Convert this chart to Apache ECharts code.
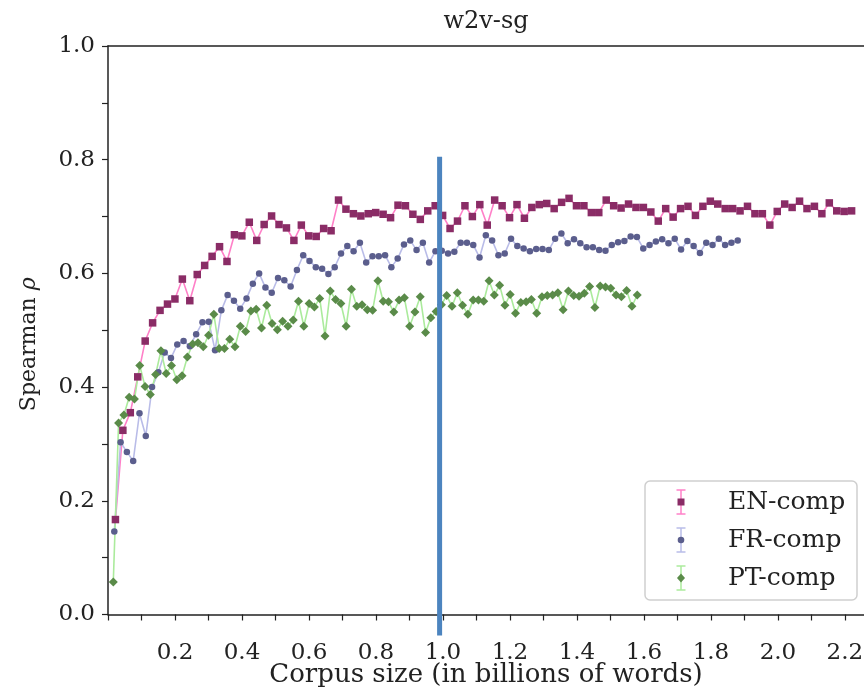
<!DOCTYPE html>
<html><head><meta charset="utf-8">
<script src="https://cdn.jsdelivr.net/npm/echarts@6/dist/echarts.min.js"></script>
<style>html,body{margin:0;padding:0;background:#fff}#c{width:864px;height:688px}</style>
</head><body><div id="c"></div>
<script>
// ---- data ----
const chartTitle = 'w2v-sg';
const seriesNames = ['EN-comp', 'FR-comp', 'PT-comp'];
// each curve is sampled at 1%,2%,...,100% of its full corpus (billions of words)
const corpusSizes = [2.22, 1.88, 1.58];
const enRho = [0.167,0.324,0.355,0.418,0.481,0.513,0.535,0.546,0.555,0.590,
  0.552,0.598,0.614,0.630,0.647,0.621,0.668,0.666,0.690,0.658,
  0.686,0.701,0.686,0.680,0.658,0.685,0.666,0.665,0.679,0.675,
  0.729,0.713,0.705,0.701,0.705,0.707,0.704,0.698,0.720,0.719,
  0.704,0.695,0.710,0.719,0.702,0.679,0.692,0.719,0.700,0.721,
  0.685,0.729,0.719,0.698,0.721,0.697,0.716,0.721,0.723,0.714,
  0.725,0.732,0.719,0.719,0.707,0.707,0.729,0.719,0.715,0.722,
  0.716,0.716,0.708,0.692,0.714,0.699,0.714,0.718,0.702,0.718,
  0.727,0.722,0.714,0.714,0.710,0.718,0.705,0.705,0.685,0.709,
  0.722,0.716,0.727,0.714,0.718,0.705,0.724,0.710,0.709,0.710];
const frRho = [0.146,0.303,0.286,0.270,0.354,0.314,0.400,0.426,0.461,0.451,
  0.475,0.481,0.472,0.493,0.514,0.515,0.465,0.535,0.562,0.552,
  0.538,0.556,0.582,0.600,0.575,0.566,0.592,0.588,0.577,0.606,
  0.632,0.622,0.611,0.608,0.599,0.611,0.635,0.648,0.639,0.654,
  0.619,0.630,0.630,0.632,0.611,0.626,0.651,0.658,0.641,0.654,
  0.619,0.639,0.640,0.635,0.638,0.654,0.654,0.650,0.628,0.667,
  0.658,0.632,0.635,0.661,0.648,0.644,0.639,0.643,0.643,0.641,
  0.661,0.670,0.653,0.660,0.653,0.646,0.646,0.641,0.640,0.650,
  0.655,0.657,0.665,0.664,0.644,0.650,0.656,0.660,0.653,0.661,
  0.642,0.657,0.648,0.636,0.654,0.650,0.661,0.650,0.654,0.658];
const ptRho = [0.057,0.337,0.351,0.382,0.379,0.438,0.401,0.387,0.422,0.464,
  0.424,0.438,0.413,0.420,0.453,0.476,0.478,0.471,0.491,0.528,
  0.468,0.468,0.484,0.471,0.507,0.498,0.534,0.537,0.504,0.544,
  0.512,0.501,0.516,0.507,0.518,0.551,0.507,0.547,0.541,0.556,
  0.490,0.569,0.554,0.547,0.507,0.572,0.542,0.545,0.536,0.535,
  0.587,0.551,0.550,0.532,0.553,0.557,0.507,0.532,0.559,0.496,
  0.522,0.533,0.545,0.561,0.542,0.566,0.544,0.528,0.553,0.553,
  0.551,0.587,0.562,0.579,0.544,0.563,0.530,0.549,0.550,0.554,
  0.530,0.559,0.561,0.562,0.566,0.536,0.569,0.561,0.560,0.565,
  0.577,0.540,0.578,0.576,0.574,0.562,0.559,0.570,0.542,0.562];
const xTickLabels = ['0.2','0.4','0.6','0.8','1.0','1.2','1.4','1.6','1.8','2.0','2.2'];
const yTickLabels = ['0.0','0.2','0.4','0.6','0.8','1.0'];
const markerLineX = 0.99;          // vertical annotation line (data units)
const markerLineY = [0.805, -0.037];

// ---- build ----
const rhoLists = [enRho, frRho, ptRho];
function toPairs(vals, size) {
  return vals.map((v, i) => [+(size * (i + 1) / vals.length).toFixed(4), v]);
}
const styles = [
  {symbol: 'rect', size: 7.5, mark: '#8a2c66', line: '#ff80c8'},
  {symbol: 'circle', size: 6.5, mark: '#5b5e8d', line: '#b9bce8'},
  {symbol: 'diamond', size: 9, mark: '#5a8b49', line: '#abeb9c'}
];
const serif = 'DejaVu Serif';
const chart = echarts.init(document.getElementById('c'), null, {renderer: 'canvas'});

const xFmt = v => { const s = v.toFixed(1); return (Math.abs(v * 10 - Math.round(v * 10)) < 1e-6 && xTickLabels.includes(s)) ? s : ''; };
const yFmt = v => { const s = v.toFixed(1); return (Math.abs(v * 10 - Math.round(v * 10)) < 1e-6 && yTickLabels.includes(s)) ? s : ''; };

const option = {
  animation: false,
  backgroundColor: '#fff',
  title: {
    text: chartTitle, left: 481, top: 5, textAlign: 'center',
    textStyle: {fontFamily: serif, fontSize: 24, fontWeight: 'normal', color: '#222'}
  },
  grid: {left: 108, top: 46, right: 0, bottom: 73.5, containLabel: false, outerBoundsMode: 'none'},
  xAxis: [{
    type: 'value', min: 0, max: 2.257, interval: 0.1,
    name: 'Corpus size (in billions of words)', nameLocation: 'middle', nameGap: 48, nameMoveOverlap: false,
    nameTextStyle: {fontFamily: serif, fontSize: 26, color: '#222'},
    axisLine: {lineStyle: {color: '#222', width: 1.5}},
    axisTick: {length: 6, lineStyle: {color: '#222', width: 1.2}},
    axisLabel: {formatter: xFmt, fontFamily: serif, fontSize: 23, color: '#222', margin: 21, padding: [6, 0, 0, 0], showMaxLabel: false},
    splitLine: {show: false}
  }, {
    type: 'value', position: 'top', min: 0, max: 2.257,
    axisLine: {show: true, lineStyle: {color: '#222', width: 1.5}},
    axisTick: {show: false}, axisLabel: {show: false}, splitLine: {show: false}
  }],
  yAxis: {
    type: 'value', min: 0, max: 1, interval: 0.1,
    name: 'Spearman {i|ρ}', nameLocation: 'middle', nameGap: 68, nameRotate: 90, nameMoveOverlap: false,
    nameTextStyle: {fontFamily: serif, fontSize: 22, color: '#222', padding: [0, 28, 0, 0],
      rich: {i: {fontFamily: serif, fontSize: 22, fontStyle: 'italic', color: '#222'}}},
    axisLine: {show: true, lineStyle: {color: '#222', width: 1.5}},
    axisTick: {length: 6, lineStyle: {color: '#222', width: 1.2}},
    axisLabel: {formatter: yFmt, fontFamily: serif, fontSize: 23, color: '#222', margin: 13},
    splitLine: {show: false}
  },
  series: seriesNames.map((name, k) => ({
    name, type: 'line', xAxisIndex: 0,
    data: toPairs(rhoLists[k], corpusSizes[k]),
    symbol: styles[k].symbol, symbolSize: styles[k].size, showAllSymbol: true,
    itemStyle: {color: styles[k].mark, opacity: 1},
    lineStyle: {color: styles[k].line, width: 1.6},
    emphasis: {disabled: true}
  }))
};
chart.setOption(option);

// vertical annotation line positioned through the axes' scales
const pTop = chart.convertToPixel({gridIndex: 0}, [markerLineX, markerLineY[0]]);
const pBot = chart.convertToPixel({gridIndex: 0}, [markerLineX, markerLineY[1]]);

// legend (box, error-bar icons, markers, text)
const legendBox = {x: 645, y: 481, w: 212, h: 119};
const legendRowY = [502, 540, 578];
const iconX = 681, textX = 728;
const g = [];
g.push({type: 'rect', shape: {x: legendBox.x, y: legendBox.y, width: legendBox.w, height: legendBox.h, r: 5},
  style: {fill: 'rgba(255,255,255,0.85)', stroke: '#cfcfcf', lineWidth: 1.5}, z: 10});
seriesNames.forEach((name, k) => {
  const cy = legendRowY[k], st = styles[k];
  const lc = st.line;
  g.push({type: 'line', shape: {x1: iconX, y1: cy - 12, x2: iconX, y2: cy + 12}, style: {stroke: lc, lineWidth: 1.5}, z: 11});
  g.push({type: 'line', shape: {x1: iconX - 4.5, y1: cy - 12, x2: iconX + 4.5, y2: cy - 12}, style: {stroke: lc, lineWidth: 1.5}, z: 11});
  g.push({type: 'line', shape: {x1: iconX - 4.5, y1: cy + 12, x2: iconX + 4.5, y2: cy + 12}, style: {stroke: lc, lineWidth: 1.5}, z: 11});
  if (st.symbol === 'rect') {
    g.push({type: 'rect', shape: {x: iconX - 3.5, y: cy - 3.5, width: 7, height: 7}, style: {fill: st.mark}, z: 12});
  } else if (st.symbol === 'circle') {
    g.push({type: 'circle', shape: {cx: iconX, cy: cy, r: 3.3}, style: {fill: st.mark}, z: 12});
  } else {
    g.push({type: 'polygon', shape: {points: [[iconX, cy - 4.5], [iconX + 4, cy], [iconX, cy + 4.5], [iconX - 4, cy]]}, style: {fill: st.mark}, z: 12});
  }
  g.push({type: 'text', x: textX, y: cy, style: {text: name, fontFamily: serif, fontSize: 25, fill: '#222', textVerticalAlign: 'middle', verticalAlign: 'middle'}, z: 12});
});
g.push({type: 'rect', shape: {x: pTop[0] - 2.5, y: pTop[1], width: 5, height: pBot[1] - pTop[1]},
  style: {fill: '#4c84bf'}, z: 20});
chart.setOption({graphic: g});
</script></body></html>
